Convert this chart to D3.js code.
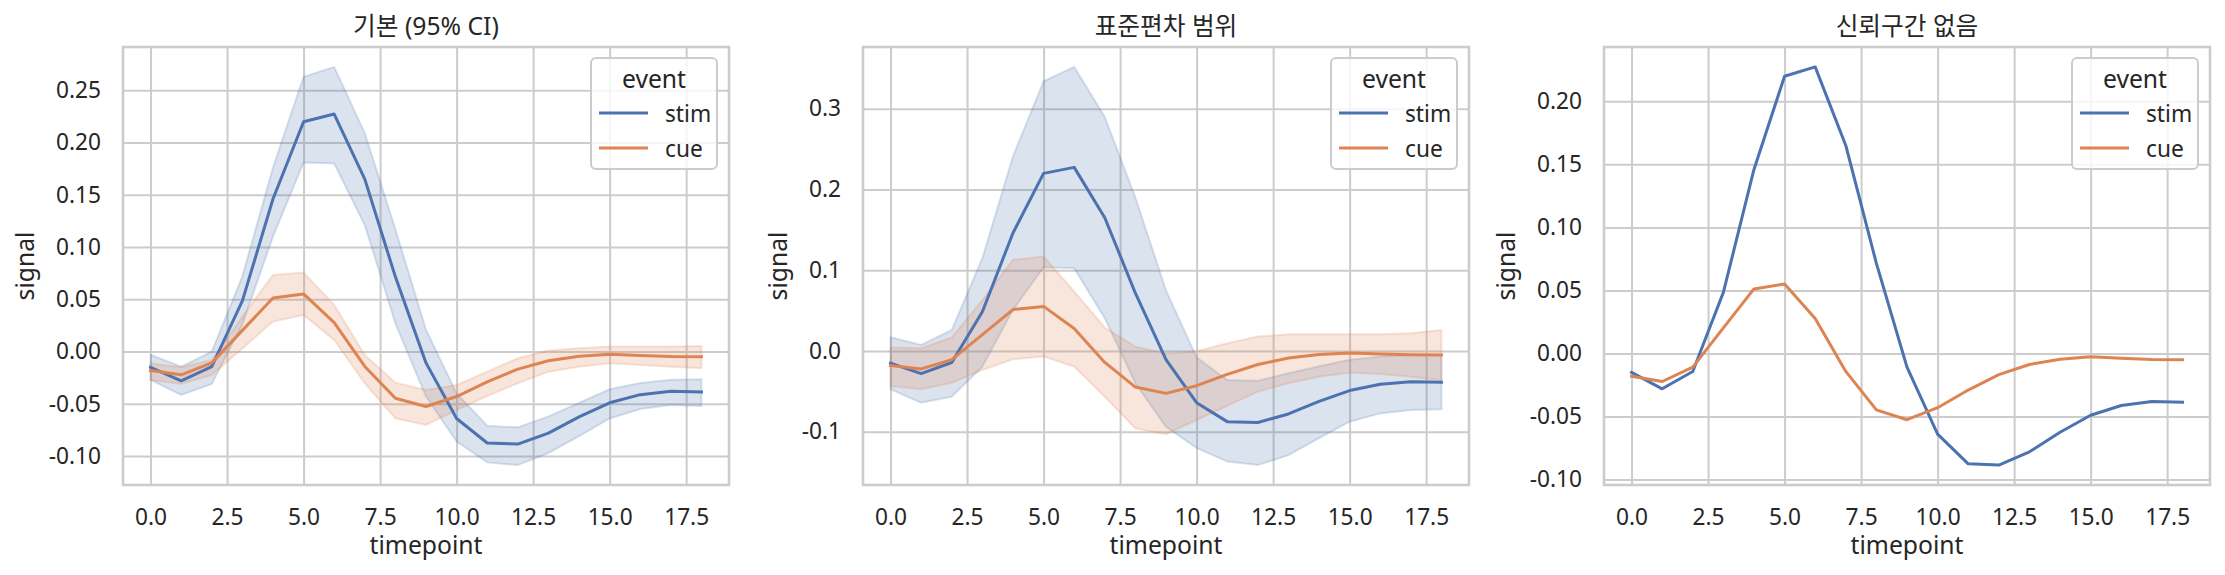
<!DOCTYPE html>
<html>
<head>
<meta charset="utf-8">
<script src="https://cdn.jsdelivr.net/npm/d3@7"></script>
<style>
  body { margin: 0; background: #fff; }
  svg text { font-family: "Noto Sans", "Noto Sans CJK KR", sans-serif; fill: #262626; }
</style>
</head>
<body>
<div id="chart"></div>
<script>
// --- data ---
const timepoints = [0, 1, 2, 3, 4, 5, 6, 7, 8, 9, 10, 11, 12, 13, 14, 15, 16, 17, 18];

const stimMean = [-0.0150, -0.0280, -0.0143, 0.0485, 0.1460, 0.2199, 0.2273, 0.1650, 0.0715, -0.0108,
  -0.0640, -0.0875, -0.0885, -0.0780, -0.0625, -0.0490, -0.0412, -0.0380, -0.0386];
const cueMean = [-0.0180, -0.0222, -0.0108, 0.0203, 0.0512, 0.0552, 0.0278, -0.0142, -0.0447, -0.0525,
  -0.0430, -0.0290, -0.0168, -0.0087, -0.0045, -0.0025, -0.0037, -0.0047, -0.0050];

// 95% CI band
const stimCiLow = [-0.0271, -0.0415, -0.0310, 0.0260, 0.1100, 0.1810, 0.1800, 0.1210, 0.0270, -0.0430,
  -0.0860, -0.1060, -0.1086, -0.0970, -0.0810, -0.0640, -0.0550, -0.0510, -0.0520];
const stimCiHigh = [-0.0030, -0.0144, 0.0000, 0.0720, 0.1760, 0.2630, 0.2724, 0.2090, 0.1170, 0.0210,
  -0.0400, -0.0710, -0.0725, -0.0620, -0.0490, -0.0360, -0.0300, -0.0270, -0.0265];
const cueCiLow = [-0.0271, -0.0310, -0.0224, 0.0030, 0.0287, 0.0351, 0.0112, -0.0303, -0.0639, -0.0702,
  -0.0560, -0.0425, -0.0303, -0.0192, -0.0144, -0.0112, -0.0128, -0.0144, -0.0160];
const cueCiHigh = [-0.0112, -0.0150, -0.0080, 0.0335, 0.0734, 0.0757, 0.0447, -0.0032, -0.0297, -0.0367,
  -0.0320, -0.0192, -0.0064, 0.0010, 0.0032, 0.0048, 0.0048, 0.0048, 0.0054];

// standard deviation band
const stimSdLow = [-0.0475, -0.0640, -0.0566, -0.0194, 0.0510, 0.1037, 0.1025, 0.0405, -0.0400, -0.0940,
  -0.1200, -0.1370, -0.1413, -0.1290, -0.1080, -0.0876, -0.0773, -0.0730, -0.0723];
const stimSdHigh = [0.0169, 0.0074, 0.0260, 0.1149, 0.2409, 0.3339, 0.3517, 0.2897, 0.1900, 0.0750,
  -0.0080, -0.0360, -0.0368, -0.0277, -0.0190, -0.0110, -0.0070, -0.0050, -0.0050];
const cueSdLow = [-0.0434, -0.0475, -0.0393, -0.0236, -0.0103, -0.0070, -0.0194, -0.0566, -0.0959, -0.1030,
  -0.0855, -0.0680, -0.0504, -0.0400, -0.0318, -0.0269, -0.0285, -0.0318, -0.0360];
const cueSdHigh = [0.0045, 0.0033, 0.0169, 0.0630, 0.1128, 0.1169, 0.0736, 0.0290, 0.0054, -0.0030,
  -0.0004, 0.0095, 0.0178, 0.0207, 0.0207, 0.0207, 0.0207, 0.0219, 0.0260];

const xTicks = [0, 2.5, 5, 7.5, 10, 12.5, 15, 17.5];
const yTicksCi = [-0.10, -0.05, 0.00, 0.05, 0.10, 0.15, 0.20, 0.25];
const yTicksSd = [-0.1, 0.0, 0.1, 0.2, 0.3];
const yTicksNone = [-0.10, -0.05, 0.00, 0.05, 0.10, 0.15, 0.20];

const titles = ["기본 (95% CI)", "표준편차 범위", "신뢰구간 없음"];
const events = ["stim", "cue"];

// --- layout ---
const width = 2225, height = 575;
const W = 606, H = 438, TOP = 47;
const lefts = [123, 863, 1604];
const colors = { stim: "#4c72b0", cue: "#dd8452" };

const svg = d3.select("#chart").append("svg")
  .attr("width", width)
  .attr("height", height);

const panels = [
  { title: titles[0], yTicks: yTicksCi, digits: 2,
    bands: { stim: [stimCiLow, stimCiHigh], cue: [cueCiLow, cueCiHigh] } },
  { title: titles[1], yTicks: yTicksSd, digits: 1,
    bands: { stim: [stimSdLow, stimSdHigh], cue: [cueSdLow, cueSdHigh] } },
  { title: titles[2], yTicks: yTicksNone, digits: 2, bands: null }
];

const means = { stim: stimMean, cue: cueMean };

panels.forEach((p, i) => {
  const g = svg.append("g").attr("transform", `translate(${lefts[i]},${TOP})`);

  // y extent like matplotlib autoscale (5% margin)
  let vals = stimMean.concat(cueMean);
  if (p.bands) vals = vals.concat(p.bands.stim[0], p.bands.stim[1], p.bands.cue[0], p.bands.cue[1]);
  const lo = d3.min(vals), hi = d3.max(vals), pad = (hi - lo) * 0.05;

  const x = d3.scaleLinear().domain([-0.9, 18.9]).range([0, W]);
  const y = d3.scaleLinear().domain([lo - pad, hi + pad]).range([H, 0]);

  // grid + tick labels
  const xAxis = g.append("g")
    .attr("transform", `translate(0,${H})`)
    .call(d3.axisBottom(x).tickValues(xTicks).tickSize(-H).tickSizeOuter(0)
      .tickPadding(24).tickFormat(d => d.toFixed(1)));
  const yAxis = g.append("g")
    .call(d3.axisLeft(y).tickValues(p.yTicks).tickSize(-W).tickSizeOuter(0)
      .tickPadding(22).tickFormat(d => d.toFixed(p.digits)));

  [xAxis, yAxis].forEach(a => {
    a.select(".domain").remove();
    a.selectAll(".tick line").attr("stroke", "#cccccc").attr("stroke-width", 2);
    a.selectAll(".tick text").attr("fill", "#262626").style("font-size", "22.7px");
  });

  // bands
  if (p.bands) {
    events.forEach(ev => {
      const [low, high] = p.bands[ev];
      const area = d3.area()
        .x((d, k) => x(timepoints[k]))
        .y0((d, k) => y(low[k]))
        .y1((d, k) => y(high[k]));
      g.append("path")
        .datum(timepoints)
        .attr("d", area)
        .attr("fill", colors[ev])
        .attr("fill-opacity", 0.2)
        .attr("stroke", colors[ev])
        .attr("stroke-opacity", 0.2)
        .attr("stroke-width", 2);
    });
  }

  // mean lines
  events.forEach(ev => {
    const line = d3.line()
      .x((d, k) => x(timepoints[k]))
      .y((d, k) => y(means[ev][k]));
    g.append("path")
      .datum(timepoints)
      .attr("d", line)
      .attr("fill", "none")
      .attr("stroke", colors[ev])
      .attr("stroke-width", 3)
      .attr("stroke-linejoin", "round")
      .attr("stroke-linecap", "square");
  });

  // spines
  g.append("rect")
    .attr("width", W).attr("height", H)
    .attr("fill", "none")
    .attr("stroke", "#cccccc")
    .attr("stroke-width", 2.6);

  // title
  g.append("text")
    .attr("x", W / 2).attr("y", -12)
    .attr("text-anchor", "middle")
    .style("font-size", "24.7px")
    .text(p.title);

  // x label
  g.append("text")
    .attr("x", W / 2).attr("y", H + 69)
    .attr("text-anchor", "middle")
    .style("font-size", "24.7px")
    .text("timepoint");

  // y label, placed left of the widest tick label
  const tickLeft = d3.min(yAxis.selectAll(".tick text").nodes(), n => n.getBBox().x);
  g.append("text")
    .attr("transform", `translate(${tickLeft - 15},${H / 2}) rotate(-90)`)
    .attr("text-anchor", "middle")
    .style("font-size", "24.7px")
    .text("signal");

  // legend
  const lg = g.append("g").attr("transform", `translate(${W - 138},11)`);
  lg.append("rect")
    .attr("width", 126).attr("height", 111)
    .attr("rx", 5).attr("ry", 5)
    .attr("fill", "#ffffff").attr("fill-opacity", 0.8)
    .attr("stroke", "#cccccc").attr("stroke-width", 2);
  lg.append("text")
    .attr("x", 63).attr("y", 30)
    .attr("text-anchor", "middle")
    .style("font-size", "24.7px")
    .text("event");
  events.forEach((ev, k) => {
    const cy = 55 + k * 35;
    lg.append("line")
      .attr("x1", 8).attr("x2", 57)
      .attr("y1", cy).attr("y2", cy)
      .attr("stroke", colors[ev]).attr("stroke-width", 3);
    lg.append("text")
      .attr("x", 74).attr("y", cy + 9)
      .style("font-size", "22.7px")
      .text(ev);
  });
});
</script>
</body>
</html>
